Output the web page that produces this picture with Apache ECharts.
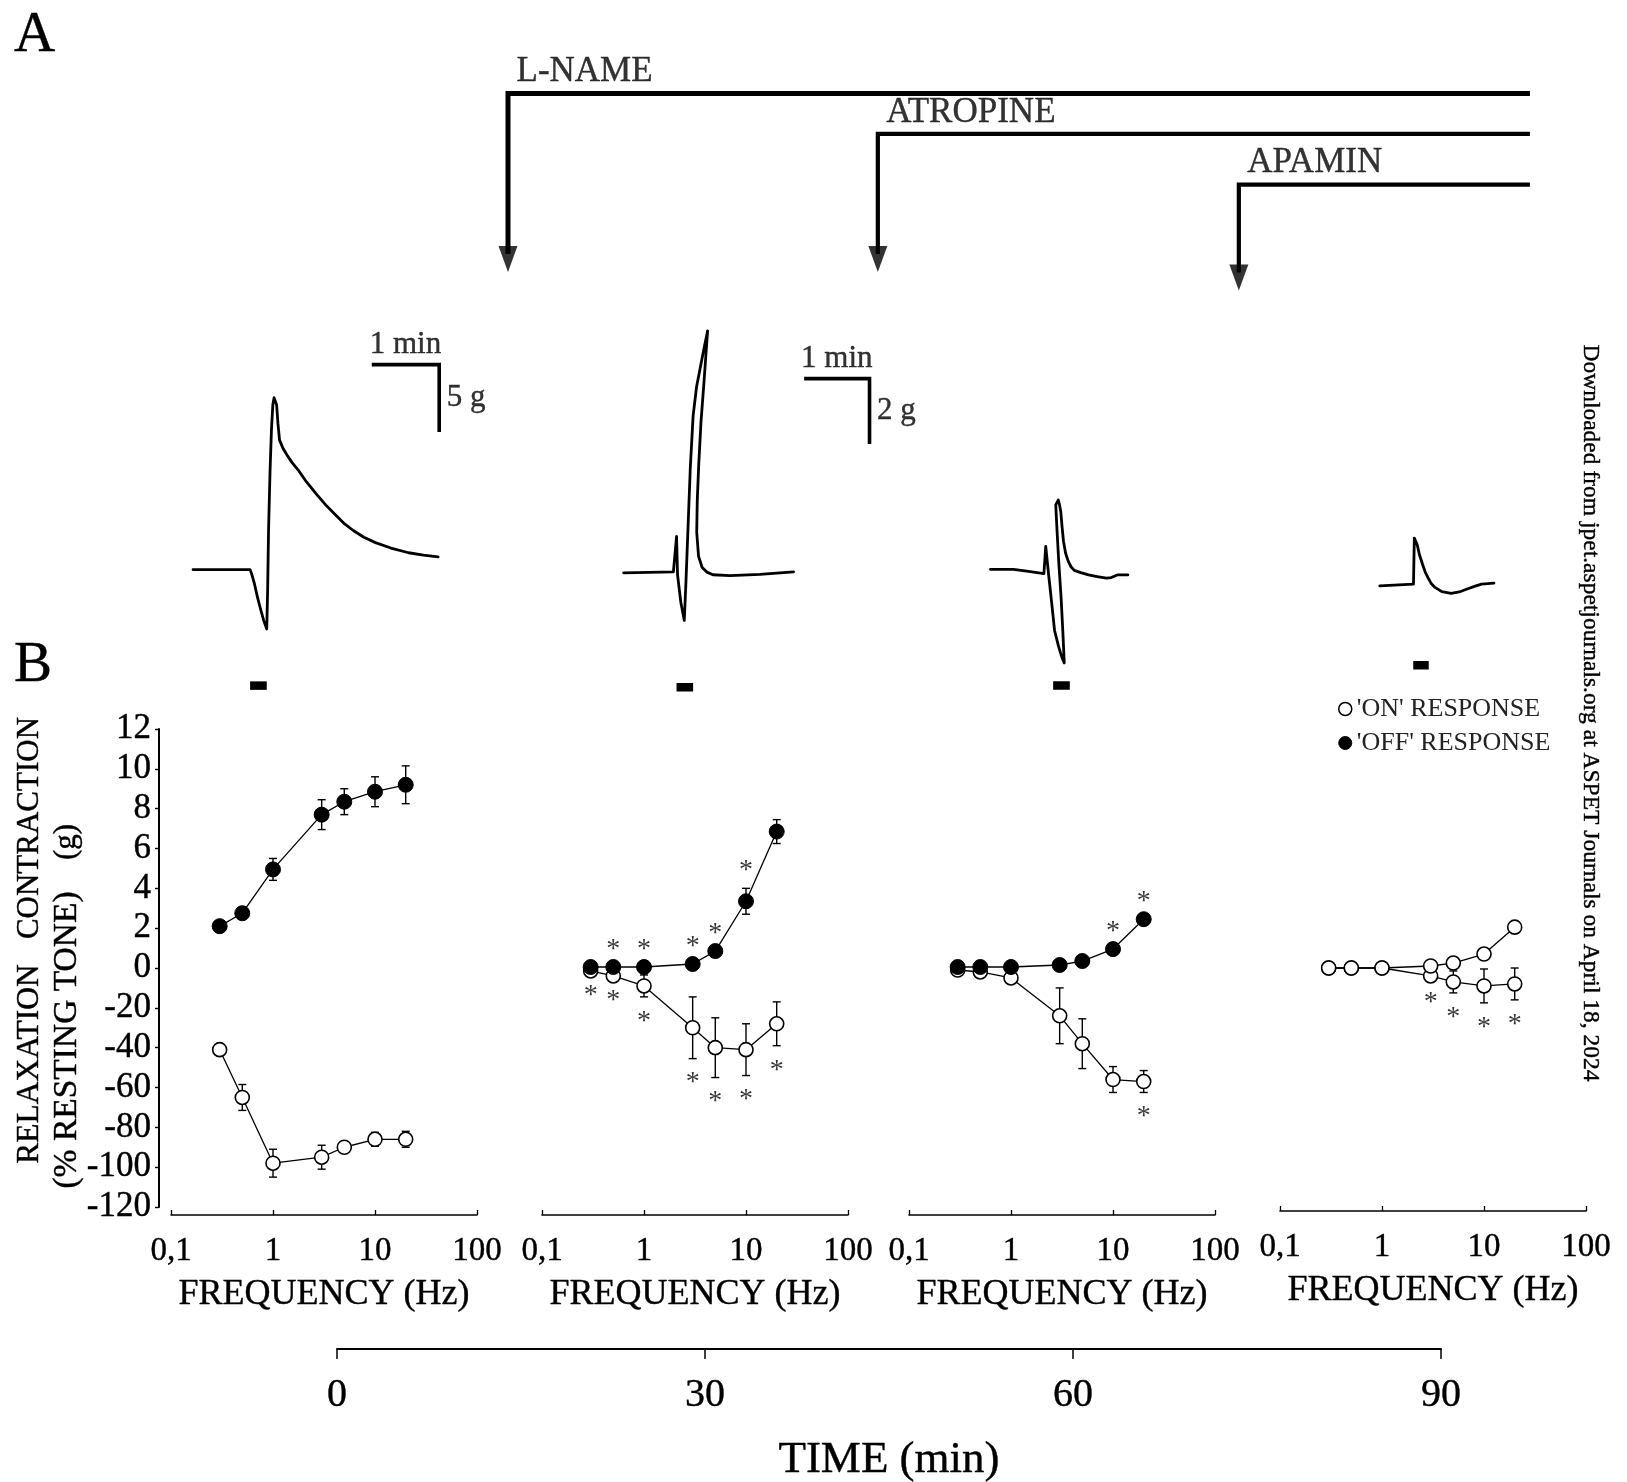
<!DOCTYPE html>
<html>
<head>
<meta charset="utf-8">
<title>EFS responses: L-NAME, atropine, apamin</title>
<script src="https://cdn.jsdelivr.net/npm/echarts@6/dist/echarts.min.js"></script>
<style>
  html, body { margin: 0; padding: 0; background: #fff; }
  #chart { width: 1627px; height: 1482px; }
</style>
</head>
<body>
<div id="chart"></div>
<script>
// ---------- data ----------
// panel B: frequency-response curves (4 time points)
var freqs = [0.3, 0.5, 1, 3, 5, 10, 20];
// 'OFF' response = contraction (g)
var offMean = [
  [2.1, 2.75, 4.95, 7.7, 8.35, 8.85, 9.2],
  [0.05, 0.05, 0.05, 0.2, 0.85, 3.35, 6.85],
  [0.05, 0.05, 0.05, 0.15, 0.35, 0.95, 2.45],
  [0, 0, 0, 0.1, 0.25, 0.7, 2.05]
];
var offErr = [
  [0.15, 0.3, 0.55, 0.75, 0.65, 0.75, 0.95],
  [0, 0, 0, 0, 0, 0.65, 0.6],
  [0, 0, 0, 0, 0, 0, 0],
  [0, 0, 0, 0, 0, 0, 0.25]
];
// 'ON' response = relaxation (% resting tone)
var onMean = [
  [-41, -65, -98, -95, -90, -86, -86],
  [-1.5, -4, -9, -30, -40, -41, -28],
  [-1, -2, -5, -24, -38, -56, -57],
  [0, 0, 0, -4, -7, -9, -8]
];
var onErr = [
  [1.5, 6.5, 7, 6, 2, 3.5, 4],
  [0, 0, 5.5, 15.5, 15, 13, 11],
  [0, 0, 0, 14, 12.5, 6.5, 5.5],
  [0, 0, 0, 1, 5.5, 8.5, 8]
];
// significance marks (frequencies with *)
var starOff = [[], [0.5, 1, 3, 5, 10], [10, 20], []];
var starOn = [[], [0.3, 0.5, 1, 3, 5, 10, 20], [20], [3, 5, 10, 20]];

// panel A: myographic traces, [time (s), tension (g)]
var trace1 = [[0, 0], [50.8, 0], [52.5, -0.4], [54.8, -1.1], [57.5, -2.1], [60, -2.9], [63, -3.8], [65.6, -4.4],
  [66.4, -1.5], [67.2, 2.9], [68.5, 7.2], [69.8, 10.4], [71, 12.2], [72.1, 12.75], [73.4, 12.7], [74.4, 12.2],
  [75.6, 10.8], [77, 9.6], [80, 9.0], [83.6, 8.5], [88, 7.95], [93.4, 7.4], [101, 6.5], [109.8, 5.6],
  [118, 4.8], [126.2, 4.1], [134, 3.45], [142.6, 2.9], [152, 2.4], [162.3, 2.0], [176, 1.6], [191.8, 1.25],
  [205, 1.08], [218, 0.95]];
var trace2 = [[0, 0], [45.7, 0.03], [48.6, 1.11], [49.5, -0.06], [52.5, -0.9], [55.7, -1.46], [57.2, -0.3],
  [59, 1.27], [61.2, 3.2], [63.8, 4.8], [67, 5.7], [70.5, 6.3], [74, 6.9], [77.1, 7.4], [75.6, 6.7],
  [73.7, 5.8], [71, 4.6], [68.9, 3.27], [67.6, 2.2], [67.1, 1.24], [68.8, 0.5], [72.1, 0.16], [76.5, 0.02],
  [81.9, -0.06], [97.7, -0.09], [125, -0.05], [156, 0.03]];
var trace3 = [[0, 0], [21.2, 0], [35, -0.06], [49.1, -0.13], [50.8, 0.7], [53.4, -0.15], [56.2, -1.0],
  [58.9, -1.87], [62.5, -2.35], [65.5, -2.68], [67.8, -2.86], [66.5, -1.9], [64.9, -0.86], [62.8, 0.2],
  [61.2, 1.17], [60, 1.97], [62.3, 2.12], [63.3, 2.0], [64.6, 1.77], [65.8, 1.3], [67.1, 0.86], [69, 0.5],
  [71.4, 0.25], [74, 0.08], [77, -0.03], [83, -0.1], [90.1, -0.17], [98, -0.22], [106.5, -0.27],
  [111, -0.25], [116.4, -0.17], [126.2, -0.17]];
var trace4 = [[0, 0], [31.0, 0.05], [31.8, 1.46], [33, 1.42], [34.4, 1.26], [36.5, 0.95], [39.4, 0.65],
  [41.8, 0.42], [44.3, 0.25], [47.5, 0.06], [50.8, -0.05], [57, -0.18], [65.6, -0.23], [73, -0.19],
  [80.3, -0.1], [87, -0.02], [93.5, 0.05], [104.9, 0.08]];
var traces = [trace1, trace2, trace3, trace4];
// stimulation periods (s)
var stimStart = [50.8, 48.6, 57.6, 30.8];
var stimEnd = [65.6, 63.8, 72.9, 45];

// drug additions (min)
var drugNames = ['L-NAME', 'ATROPINE', 'APAMIN'];
var drugStart = [13.94, 44.09, 73.52];
var drugEnd = 97.25;
var timeTicks = [0, 30, 60, 90];

// ---------- layout ----------
var FONT = 'Liberation Serif';
var BOLDEN = { textBorderColor: '#000', textBorderWidth: 0.4 };
// trace grids: [left, top, width, height, xmin, xmax, ymin, ymax]
var traceGrids = [
  [193.0, 353.8, 269.8, 350.7, 0, 240, -10, 16],
  [623.6, 295.0, 261.5, 408.5, 0, 240, -4, 8.5],
  [990.4, 471.3, 152.5, 228.8, 0, 140, -4, 3],
  [1379.7, 504.1, 130.7, 179.7, 0, 120, -3, 2.5]
];
var stimLevel = [-8.6, -3.5, -3.55, -2.43];
// drug bars: y of horizontal bar and arrow tip (px, inverted axis)
var drugBarY = [93.4, 133.9, 184.7];
var drugTipY = [272, 272, 290.5];
var freqLeft = [171, 542, 909, 1280];
var freqOffset = [8, 8, 8, 4];

var grids = [], xAxes = [], yAxes = [], series = [];

function hiddenAxis(gi, min, max, inverse) {
  return { gridIndex: gi, type: 'value', min: min, max: max, show: false, inverse: !!inverse };
}
function withBold(o) {
  for (var k in BOLDEN) o[k] = BOLDEN[k];
  return o;
}

// ---- panel A traces ----
traceGrids.forEach(function (g, i) {
  grids.push({ left: g[0], top: g[1], width: g[2], height: g[3], outerBoundsMode: 'none' });
  xAxes.push(hiddenAxis(i, g[4], g[5]));
  yAxes.push(hiddenAxis(i, g[6], g[7]));
  series.push({
    type: 'line', xAxisIndex: i, yAxisIndex: i, data: traces[i], symbol: 'none', clip: false,
    lineStyle: { color: '#000', width: 2.8, join: 'round', cap: 'round' }, silent: true, z: 3
  });
  series.push({
    type: 'line', xAxisIndex: i, yAxisIndex: i, clip: false, symbol: 'none', silent: true,
    data: [[stimStart[i], stimLevel[i]], [stimEnd[i], stimLevel[i]]],
    lineStyle: { color: '#000', width: 8.5, cap: 'butt' }
  });
});

// scale bars: [traceIndex, t0, g0, gram size, label]
var scaleBars = [[0, 159, 15.2, 5, '5 g'], [1, 165.7, 5.94, 2, '2 g']];
scaleBars.forEach(function (s) {
  var i = s[0];
  series.push({
    type: 'line', xAxisIndex: i, yAxisIndex: i, clip: false, symbol: 'none', silent: true,
    data: [[s[1], s[2]], [s[1] + 60, s[2]], [s[1] + 60, s[2] - s[3]]],
    lineStyle: { color: '#000', width: 3.6, join: 'miter', cap: 'butt' }
  });
  series.push({
    type: 'scatter', xAxisIndex: i, yAxisIndex: i, clip: false, silent: true, symbolSize: 1,
    itemStyle: { color: 'transparent' },
    data: [
      { value: [s[1] + 30, s[2]], label: { show: true, position: 'top', distance: 4, formatter: '1 min' } },
      { value: [s[1] + 60, s[2] - s[3] / 2], label: { show: true, position: 'right', distance: 7, formatter: s[4] } }
    ],
    label: withBold({ fontFamily: FONT, fontSize: 31, color: '#000' })
  });
});

// ---- drug application bars ----
var gDrug = grids.length;
grids.push({ left: 337, top: 0, width: 1104 * 100 / 90, height: 300, outerBoundsMode: 'none' });
xAxes.push(hiddenAxis(gDrug, 0, 100));
yAxes.push(hiddenAxis(gDrug, 0, 300, true));
drugNames.forEach(function (name, i) {
  series.push({
    type: 'line', xAxisIndex: gDrug, yAxisIndex: gDrug, clip: false, symbol: 'none', silent: true,
    data: [[drugEnd, drugBarY[i]], [drugStart[i], drugBarY[i]], [drugStart[i], drugTipY[i] - 18]],
    lineStyle: { color: '#000', width: i === 0 ? 5 : 4.2, join: 'miter', cap: 'butt' }
  });
  series.push({
    type: 'scatter', xAxisIndex: gDrug, yAxisIndex: gDrug, clip: false, silent: true,
    symbol: 'triangle', symbolRotate: 180, symbolSize: [19, 26], itemStyle: { color: '#000' },
    data: [[drugStart[i], drugTipY[i] - 13]]
  });
  series.push({
    type: 'scatter', xAxisIndex: gDrug, yAxisIndex: gDrug, clip: false, silent: true,
    symbolSize: 1, itemStyle: { color: 'transparent' },
    data: [[drugStart[i], drugBarY[i]]],
    label: withBold({
      show: true, formatter: name, position: [9, -21], align: 'left', verticalAlign: 'middle',
      fontFamily: FONT, fontSize: 35, color: '#000'
    })
  });
});

// ---- panel B frequency-response curves ----
function errRender(params, api) {
  var x = api.value(0), y = api.value(1), e = api.value(2);
  if (!e) return null;
  var a = api.coord([x, y + e]), b = api.coord([x, y - e]);
  var st = { stroke: '#000', lineWidth: 1.4 };
  return {
    type: 'group', children: [
      { type: 'line', shape: { x1: a[0], y1: a[1], x2: b[0], y2: b[1] }, style: st },
      { type: 'line', shape: { x1: a[0] - 4, y1: a[1], x2: a[0] + 4, y2: a[1] }, style: st },
      { type: 'line', shape: { x1: b[0] - 4, y1: b[1], x2: b[0] + 4, y2: b[1] }, style: st }
    ]
  };
}
function freqLabel(v) { return String(+(+v).toPrecision(3)).replace('.', ','); }

var openSym = { color: '#fff', borderColor: '#000', borderWidth: 1.6 };
var fillSym = { color: '#000', borderColor: '#000', borderWidth: 1 };

for (var p = 0; p < 4; p++) {
  var gi = grids.length;
  grids.push({ left: freqLeft[p], top: 729, width: 306, height: 478, outerBoundsMode: 'none' });
  xAxes.push({
    gridIndex: gi, type: 'log', logBase: 10, min: 0.1, max: 100, offset: freqOffset[p],
    axisLine: { show: true, onZero: false, lineStyle: { color: '#000', width: 1.6 } },
    axisTick: { show: true, inside: true, length: 5, lineStyle: { color: '#000', width: 1.3 } },
    minorTick: { show: false }, splitLine: { show: false },
    axisLabel: withBold({ fontFamily: FONT, fontSize: 33, color: '#000', margin: 20, formatter: freqLabel }),
    name: 'FREQUENCY (Hz)', nameLocation: 'middle', nameGap: 62, nameMoveOverlap: false,
    nameTextStyle: withBold({ fontFamily: FONT, fontSize: 36, color: '#000' })
  });
  if (p === 0) {
    yAxes.push({
      gridIndex: gi, type: 'value', min: -12, max: 12, interval: 2, offset: 12,
      axisLine: { show: true, onZero: false, lineStyle: { color: '#000', width: 2 } },
      axisTick: { show: true, length: 4, lineStyle: { color: '#000', width: 1.4 } },
      splitLine: { show: false },
      axisLabel: withBold({
        fontFamily: FONT, fontSize: 35, color: '#000', margin: 8,
        formatter: function (v) { return v > 0 ? String(v) : String(Math.round(v * 10)); }
      })
    });
  } else {
    yAxes.push(hiddenAxis(gi, -12, 12));
  }

  var onPts = freqs.map(function (f, k) { return [f, onMean[p][k] / 10, onErr[p][k] / 10]; });
  var offPts = freqs.map(function (f, k) { return [f, offMean[p][k], offErr[p][k]]; });

  series.push({ type: 'custom', xAxisIndex: gi, yAxisIndex: gi, renderItem: errRender, data: onPts, silent: true, z: 2 });
  series.push({ type: 'custom', xAxisIndex: gi, yAxisIndex: gi, renderItem: errRender, data: offPts, silent: true, z: 2 });
  series.push({
    name: "'ON' RESPONSE", type: 'line', xAxisIndex: gi, yAxisIndex: gi, clip: false,
    data: onPts.map(function (d) { return [d[0], d[1]]; }),
    symbol: 'circle', symbolSize: 14, showSymbol: true, itemStyle: openSym,
    lineStyle: { color: '#000', width: 1.3 }, emphasis: { disabled: true }, z: 3
  });
  series.push({
    name: "'OFF' RESPONSE", type: 'line', xAxisIndex: gi, yAxisIndex: gi, clip: false,
    data: offPts.map(function (d) { return [d[0], d[1]]; }),
    symbol: 'circle', symbolSize: p === 3 ? 14 : 15, showSymbol: true,
    itemStyle: p === 3 ? openSym : fillSym,
    lineStyle: { color: '#000', width: 1.3 }, emphasis: { disabled: true }, z: 4
  });

  var starData = [];
  starOff[p].forEach(function (f) {
    var k = freqs.indexOf(f);
    starData.push({ value: [f, offMean[p][k] + offErr[p][k]], label: { position: 'top', distance: 3 } });
  });
  starOn[p].forEach(function (f) {
    var k = freqs.indexOf(f);
    starData.push({ value: [f, (onMean[p][k] - onErr[p][k]) / 10], label: { position: 'bottom', distance: 10 } });
  });
  if (starData.length) {
    series.push({
      type: 'scatter', xAxisIndex: gi, yAxisIndex: gi, clip: false, silent: true, symbolSize: 1,
      itemStyle: { color: 'transparent' }, data: starData, z: 5,
      label: { show: true, formatter: '*', fontFamily: FONT, fontSize: 28, color: '#000' }
    });
  }
}

// ---- time axis ----
var gTime = grids.length;
grids.push({ left: 337, top: 1299, width: 1104, height: 50, outerBoundsMode: 'none' });
xAxes.push({
  gridIndex: gTime, type: 'value', min: timeTicks[0], max: timeTicks[timeTicks.length - 1], interval: 30,
  axisLine: { show: true, onZero: false, lineStyle: { color: '#000', width: 2 } },
  axisTick: { show: true, length: 10, lineStyle: { color: '#000', width: 1.5 } },
  splitLine: { show: false },
  axisLabel: withBold({ fontFamily: FONT, fontSize: 40, color: '#000', margin: 26 }),
  name: 'TIME (min)', nameLocation: 'middle', nameGap: 89, nameMoveOverlap: false,
  nameTextStyle: withBold({ fontFamily: FONT, fontSize: 45, color: '#000' })
});
yAxes.push(hiddenAxis(gTime, 0, 1));

function txt(x, y, text, size, align, rot, color) {
  return {
    type: 'text', x: x, y: y, rotation: rot || 0, silent: true,
    style: {
      text: text, fontFamily: FONT, fontSize: size, fill: color || '#000',
      stroke: color || '#000', lineWidth: 0.4,
      align: align || 'left', verticalAlign: 'middle', textAlign: align || 'left', textVerticalAlign: 'middle'
    }
  };
}

var chart = echarts.init(document.getElementById('chart'), null, { renderer: 'canvas' });
chart.setOption({
  backgroundColor: '#fff',
  animation: false,
  textStyle: { fontFamily: FONT, color: '#000' },
  grid: grids,
  xAxis: xAxes,
  yAxis: yAxes,
  legend: {
    orient: 'vertical', left: 1333, top: 691, itemWidth: 13, itemHeight: 13, itemGap: 8,
    icon: 'circle', selectedMode: false,
    textStyle: { fontFamily: FONT, fontSize: 26, color: '#222' },
    data: [
      { name: "'ON' RESPONSE", itemStyle: { color: '#fff', borderColor: '#000', borderWidth: 1.5 } },
      { name: "'OFF' RESPONSE", itemStyle: { color: '#000', borderColor: '#000', borderWidth: 1 } }
    ]
  },
  graphic: [
    txt(14, 36, 'A', 57),
    txt(14, 666, 'B', 57),
    txt(30, 1064, 'RELAXATION', 31.5, 'center', Math.PI / 2),
    txt(30, 828, 'CONTRACTION', 31, 'center', Math.PI / 2),
    txt(67, 1040, '(% RESTING TONE)', 33.5, 'center', Math.PI / 2),
    txt(67, 842, '(g)', 31, 'center', Math.PI / 2),
    txt(1590, 713, 'Downloaded from jpet.aspetjournals.org at ASPET Journals on April 18, 2024', 23.5, 'center', -Math.PI / 2)
  ],
  series: series
});
</script>
</body>
</html>
